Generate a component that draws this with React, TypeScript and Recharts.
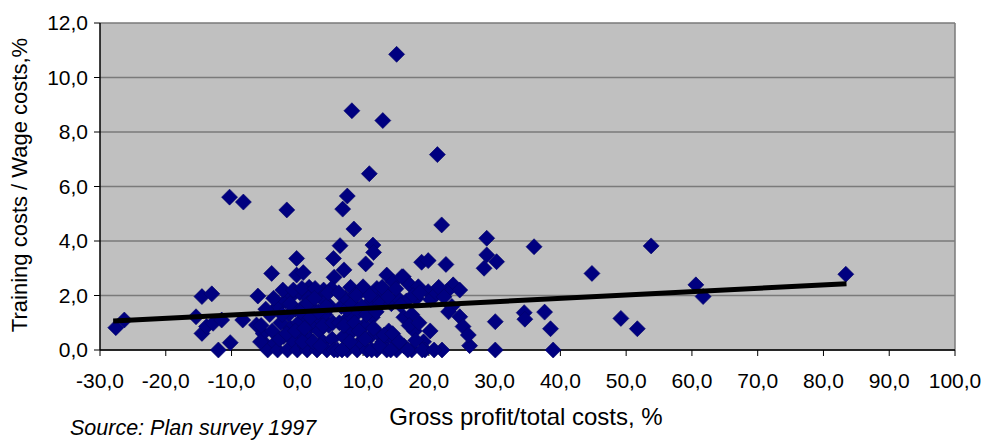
import { ScatterChart, Scatter, XAxis, YAxis, CartesianGrid, ReferenceLine } from 'recharts';

const xTicks = [-30, -20, -10, 0, 10, 20, 30, 40, 50, 60, 70, 80, 90, 100];
const yTicks = [0, 2, 4, 6, 8, 10, 12];

// firms well above the main cloud
const highPoints: [number, number][] = [
    [15.1, 10.85], [8.3, 8.78], [13.0, 8.42], [21.3, 7.17], [10.95, 6.47],
    [-10.3, 5.61], [-8.2, 5.43], [-1.6, 5.14], [7.6, 5.65], [6.9, 5.17],
    [8.6, 4.44], [21.95, 4.59], [28.8, 4.1], [36.0, 3.79], [53.8, 3.82],
    [28.8, 3.49], [30.3, 3.24], [28.4, 3.0], [44.8, 2.81],
    [6.5, 3.83], [11.5, 3.85], [11.6, 3.58], [5.5, 3.36], [10.4, 3.16],
    [18.9, 3.22], [19.9, 3.28], [22.6, 3.14], [7.1, 2.94], [5.6, 2.67],
    [13.6, 2.75], [16.1, 2.69], [-0.1, 3.36], [-0.1, 2.75], [0.9, 2.84], [-3.9, 2.81],
];

// loss-making firms and the far right
const sidePoints: [number, number][] = [
    [-27.6, 0.82], [-26.3, 1.1], [-15.4, 1.22], [-14.5, 1.96], [-13.0, 2.06],
    [-14.5, 0.61], [-13.8, 0.86], [-12.8, 0.98], [-11.5, 1.1], [-12.0, 0.0],
    [-10.2, 0.27], [-8.3, 1.1], [-6.0, 1.98], [-6.2, 0.92], [-5.2, 0.61], [-4.7, 0.18],
    [34.5, 1.37], [34.6, 1.13], [37.6, 1.39], [30.1, 1.04], [38.5, 0.78],
    [49.2, 1.16], [51.7, 0.78], [30.1, 0.0], [38.9, 0.0], [26.2, 0.16],
    [60.6, 2.39], [61.7, 1.96], [83.4, 2.78],
    [24.7, 1.22], [25.2, 0.86], [26.0, 0.55], [23.7, 2.39], [24.7, 2.2],
];

// dense cloud, -6 .. 5
const cloudLeft: [number, number][] = [
    [-5.5, 0.9], [-4.5, 0.0], [-4.2, 1.3], [-3.8, 0.7], [-3.4, 0.25], [-3.0, 1.6],
    [-3.0, 0.0], [-2.5, 1.0], [-2.1, 0.5], [-1.8, 1.8], [-1.5, 0.0], [-1.3, 1.3],
    [-1.0, 0.8], [-0.8, 2.0], [-0.5, 0.3], [-0.3, 1.5], [0.0, 0.0], [0.2, 1.0],
    [0.4, 2.1], [0.6, 0.6], [0.9, 1.6], [1.2, 0.15], [1.4, 1.2], [1.5, 0.0],
    [1.9, 0.4], [2.2, 0.9], [2.5, 1.5], [3.0, 0.0], [3.0, 2.0], [3.3, 0.7],
    [3.6, 1.1], [3.9, 0.3], [4.2, 1.3], [4.5, 0.0], [4.8, 0.9], [5.0, 1.6],
    [5.3, 0.4], [-2.2, 2.2], [1.8, 2.3], [4.0, 2.2], [-0.6, 2.2], [0.7, 2.26],
    [2.7, 2.26], [1.7, 1.9], [4.2, 1.77], [5.2, 2.26],
    [-3.6, 1.9], [-2.7, 0.4], [-2.3, 1.3], [-1.6, 0.6], [-1.1, 1.7], [-0.3, 0.7],
    [0.5, 1.4], [0.8, 0.3], [1.1, 0.8], [1.6, 1.7], [2.0, 1.2], [2.4, 0.3],
    [2.6, 1.9], [3.2, 1.4], [3.5, 0.15], [3.9, 0.9], [4.4, 1.6], [4.7, 2.1],
    [5.4, 1.0], [5.6, 0.0], [-4.8, 1.5], [-5.6, 0.3],
];

// dense cloud, 6 .. 24
const cloudMid: [number, number][] = [
    [6.1, 0.0], [6.4, 1.0], [6.7, 1.6], [7.0, 0.5], [7.3, 1.9], [7.6, 0.0],
    [7.8, 1.2], [8.1, 2.3], [8.4, 0.7], [8.8, 2.02], [9.1, 0.0], [9.3, 1.4],
    [9.6, 0.3], [10.0, 2.32], [10.2, 0.9], [10.6, 0.0], [10.8, 1.7], [11.1, 0.5],
    [11.4, 1.2], [11.7, 2.0], [12.1, 0.0], [12.1, 2.26], [12.3, 0.6], [12.6, 1.7],
    [13.0, 0.3], [13.3, 2.1], [13.6, 0.0], [13.9, 0.7], [14.3, 1.7], [14.6, 2.5],
    [14.8, 0.4], [15.1, 0.0], [15.3, 1.9], [15.9, 2.69], [16.2, 1.2], [16.2, 0.15],
    [16.6, 1.8], [17.1, 2.39], [17.4, 0.0], [17.4, 1.3], [17.8, 0.7], [18.1, 1.9],
    [18.4, 2.32], [19.2, 0.3], [19.4, 0.0], [19.9, 2.14], [20.3, 1.85], [20.2, 0.7],
    [21.2, 2.08], [22.0, 0.0], [22.7, 2.14], [23.5, 1.6],
    [6.3, 2.1], [6.8, 0.0], [7.1, 0.9], [7.5, 1.5], [8.0, 0.3], [8.3, 1.7],
    [8.7, 1.0], [9.0, 2.0], [9.4, 0.7], [9.8, 1.6], [10.3, 0.4], [10.5, 1.3],
    [11.0, 2.0], [11.3, 0.0], [11.6, 0.8], [12.0, 1.4], [12.5, 0.15], [12.9, 2.3],
    [13.2, 0.55], [13.8, 1.95], [14.2, 0.0], [14.5, 0.6], [15.0, 2.25], [15.5, 0.3],
    [15.7, 1.65], [16.8, 0.0], [17.0, 0.9], [17.6, 2.0], [18.0, 0.35], [18.6, 2.1],
    [19.0, 0.0], [18.5, 1.0], [20.8, 0.0], [21.5, 2.3], [22.3, 1.95], [23.0, 1.4],
];

const trendLine: [number, number][] = [[-28, 1.06], [83.5, 2.43]];

const toXY = (rows: [number, number][]) => rows.map(([x, y]) => ({ x, y }));
const scatterData = toXY([...highPoints, ...sidePoints, ...cloudLeft, ...cloudMid]);
const trendData = toXY(trendLine);

const fmt = (v: number) => v.toFixed(1).replace('.', ',');

const Diamond = (props: any) => {
    const { cx, cy } = props;
    const r = 8;
    return (
        <path
            d={`M${cx},${cy - r}L${cx + r},${cy}L${cx},${cy + r}L${cx - r},${cy}Z`}
            fill="#000080"
            stroke="#000066"
            strokeWidth={0.6}
        />
    );
};

const tickStyle = { fontSize: 21, fill: '#000', fontFamily: '"Liberation Sans", Arial, sans-serif' };

const App = () => {
    return (
        <div
            style={{
                position: 'absolute',
                left: 0,
                top: 0,
                width: 983,
                height: 441,
                background: '#fff',
                fontFamily: '"Liberation Sans", Arial, sans-serif',
                overflow: 'hidden',
            }}
        >
            <ScatterChart width={983} height={441} margin={{ top: 23, right: 28, bottom: 61, left: 0 }}>
                <CartesianGrid vertical={false} fill="#c0c0c0" stroke="#7a7a7a" strokeWidth={1.5} />
                <XAxis
                    type="number"
                    dataKey="x"
                    domain={[-30, 100]}
                    ticks={xTicks}
                    interval={0}
                    tickFormatter={fmt}
                    height={30}
                    tickSize={6}
                    tickMargin={17}
                    axisLine={{ stroke: '#000', strokeWidth: 1.5 }}
                    tickLine={{ stroke: '#000' }}
                    tick={tickStyle}
                />
                <YAxis
                    type="number"
                    dataKey="y"
                    domain={[0, 12]}
                    ticks={yTicks}
                    interval={0}
                    tickFormatter={fmt}
                    width={100}
                    tickSize={6}
                    tickMargin={6}
                    axisLine={{ stroke: '#000', strokeWidth: 1.5 }}
                    tickLine={{ stroke: '#000' }}
                    tick={tickStyle}
                />
                <ReferenceLine x={100} stroke="#7a7a7a" strokeWidth={1.5} />
                <Scatter data={scatterData} shape={<Diamond />} isAnimationActive={false} />
                <Scatter
                    data={trendData}
                    line={{ stroke: '#000', strokeWidth: 5 }}
                    shape={() => <g />}
                    isAnimationActive={false}
                />
            </ScatterChart>
            <div
                style={{
                    position: 'absolute',
                    left: -180,
                    top: 172,
                    width: 400,
                    height: 26,
                    lineHeight: '26px',
                    fontSize: 22,
                    textAlign: 'center',
                    transform: 'rotate(-90deg)',
                    whiteSpace: 'nowrap',
                }}
            >
                Training costs / Wage costs,%
            </div>
            <div
                style={{
                    position: 'absolute',
                    left: 326,
                    top: 403,
                    width: 400,
                    lineHeight: '28px',
                    fontSize: 24,
                    textAlign: 'center',
                    whiteSpace: 'nowrap',
                }}
            >
                Gross profit/total costs, %
            </div>
            <div
                style={{
                    position: 'absolute',
                    left: 70,
                    top: 416,
                    lineHeight: '24px',
                    fontSize: 21.5,
                    fontStyle: 'italic',
                    whiteSpace: 'nowrap',
                }}
            >
                Source: Plan survey 1997
            </div>
        </div>
    );
};

export default App;
